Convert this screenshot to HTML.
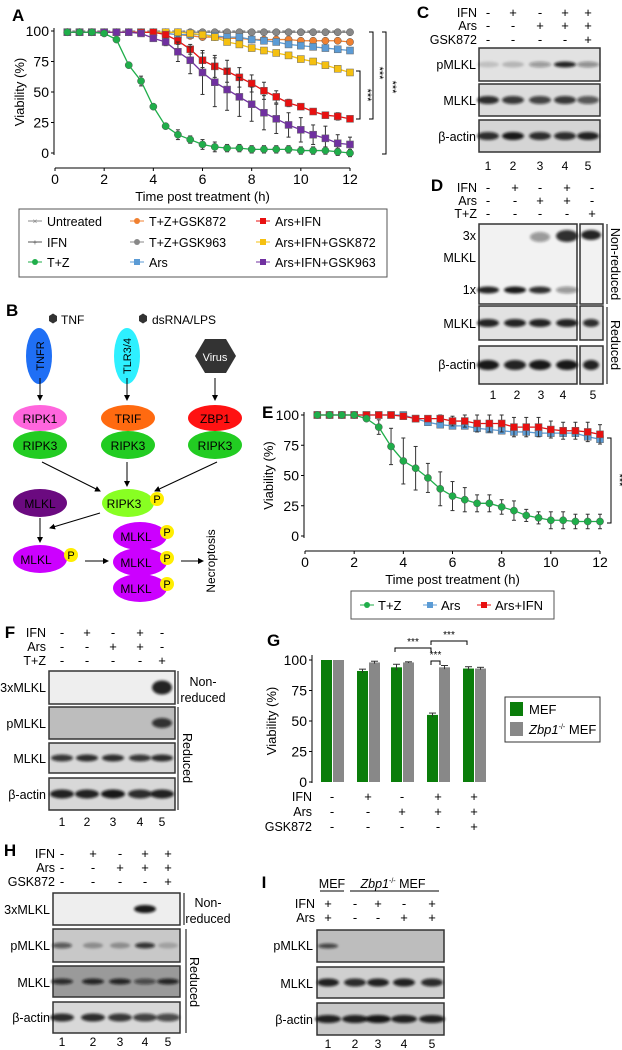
<!DOCTYPE html>
<html><head><meta charset="utf-8"><style>
html,body{margin:0;padding:0;background:#fff}
svg{display:block;font-family:"Liberation Sans",Arial,sans-serif}
</style></head><body>
<svg id="fig" width="622" height="1050" viewBox="0 0 622 1050" xmlns="http://www.w3.org/2000/svg">
<defs>
<filter id="bl" x="-20%" y="-50%" width="140%" height="200%"><feGaussianBlur stdDeviation="1.3"/></filter>
<marker id="ar" markerWidth="6" markerHeight="6" refX="5" refY="3" orient="auto"><path d="M0,0 L6,3 L0,6 z" fill="#000"/></marker>
</defs>
<g id="panelA"></g>
<g id="panelE"></g>
<g id="panelG"></g>
<g id="blots"></g>

<!-- Panel B diagram -->
<g font-size="12">
<text x="6" y="316" font-size="17" font-weight="bold">B</text>
<polygon points="49,316 53,313.5 57,316 57,321 53,323.5 49,321" fill="#333"/>
<text x="61" y="324">TNF</text>
<polygon points="139,316 143,313.5 147,316 147,321 143,323.5 139,321" fill="#333"/>
<text x="152" y="324">dsRNA/LPS</text>
<ellipse cx="39" cy="356" rx="13" ry="28" fill="#1f6ff5"/>
<text transform="translate(44,356) rotate(-90)" text-anchor="middle" font-size="11">TNFR</text>
<ellipse cx="127" cy="356" rx="13" ry="28" fill="#2ef0ff"/>
<text transform="translate(131,356) rotate(-90)" text-anchor="middle" font-size="11">TLR3/4</text>
<polygon points="205,339 226,339 236,356 226,373 205,373 195,356" fill="#333"/>
<text x="215" y="361" fill="#fff" text-anchor="middle" font-size="11">Virus</text>
<g stroke="#000" stroke-width="1" marker-end="url(#ar)">
<line x1="40" y1="378" x2="40" y2="400"/><line x1="127" y1="378" x2="127" y2="400"/><line x1="215" y1="378" x2="215" y2="400"/>
<line x1="42" y1="462" x2="100" y2="491"/><line x1="127" y1="462" x2="127" y2="486"/><line x1="217" y1="462" x2="155" y2="491"/>
<line x1="100" y1="513" x2="50" y2="528"/><line x1="40" y1="518" x2="40" y2="542"/>
<line x1="85" y1="561" x2="108" y2="561"/><line x1="181" y1="561" x2="203" y2="561"/>
</g>
<ellipse cx="40" cy="418" rx="27" ry="13" fill="#ff66dd"/><text x="40" y="423" text-anchor="middle">RIPK1</text>
<ellipse cx="128" cy="418" rx="27" ry="13" fill="#ff6a10"/><text x="128" y="423" text-anchor="middle">TRIF</text>
<ellipse cx="215" cy="418" rx="27" ry="13" fill="#ff1212"/><text x="215" y="423" text-anchor="middle">ZBP1</text>
<ellipse cx="40" cy="445" rx="27" ry="14" fill="#22cc22"/><text x="40" y="450" text-anchor="middle">RIPK3</text>
<ellipse cx="128" cy="445" rx="27" ry="14" fill="#22cc22"/><text x="128" y="450" text-anchor="middle">RIPK3</text>
<ellipse cx="215" cy="445" rx="27" ry="14" fill="#22cc22"/><text x="215" y="450" text-anchor="middle">RIPK3</text>
<ellipse cx="128" cy="503" rx="26" ry="14" fill="#88ff22"/><text x="124" y="508" text-anchor="middle">RIPK3</text>
<circle cx="157" cy="499" r="7" fill="#ffee00"/><text x="157" y="503" text-anchor="middle" font-size="11">P</text>
<ellipse cx="40" cy="503" rx="27" ry="14" fill="#6b0a80"/><text x="40" y="508" text-anchor="middle">MLKL</text>
<ellipse cx="40" cy="559" rx="27" ry="14" fill="#cc00ff"/><text x="36" y="564" text-anchor="middle">MLKL</text>
<circle cx="71" cy="555" r="7" fill="#ffee00"/><text x="71" y="559" text-anchor="middle" font-size="11">P</text>
<ellipse cx="140" cy="588" rx="27" ry="14" fill="#cc00ff"/><text x="136" y="593" text-anchor="middle">MLKL</text><circle cx="167" cy="584" r="7" fill="#ffee00"/><text x="167" y="588" text-anchor="middle" font-size="11">P</text>
<ellipse cx="140" cy="562" rx="27" ry="14" fill="#cc00ff"/><text x="136" y="567" text-anchor="middle">MLKL</text><circle cx="167" cy="558" r="7" fill="#ffee00"/><text x="167" y="562" text-anchor="middle" font-size="11">P</text>
<ellipse cx="140" cy="536" rx="27" ry="14" fill="#cc00ff"/><text x="136" y="541" text-anchor="middle">MLKL</text><circle cx="167" cy="532" r="7" fill="#ffee00"/><text x="167" y="536" text-anchor="middle" font-size="11">P</text>
<text transform="translate(215,561) rotate(-90)" text-anchor="middle" font-size="12">Necroptosis</text>
</g>
</svg>
<script>
// ---------- Panel A data ----------
const timesA = [0.5,1,1.5,2,2.5,3,3.5,4,4.5,5,5.5,6,6.5,7,7.5,8,8.5,9,9.5,10,10.5,11,11.5,12];
const xTicks = [0,2,4,6,8,10,12];
const yTicks = [0,25,50,75,100];
const untreatedA = [100,100,100,100,100,100,100,100,100,100,100,100,100,100,100,100,100,100,100,100,100,100,100,100];
const ifnA = [99,99,99,99,99,99,99,99,99,99,99,99,99,99,99,99,99,99,99,99,99,99,99,99];
const tzA = [99,99,99,98,93,72,59,38,22,15,11,7,5,4,4,3,3,3,3,2,2,2,1,0];
const tzErrA = [1,1,1,2,2,2,4,2,2,4,3,4,4,3,3,3,3,3,3,3,3,3,3,3];
const tz872A = [99,99,99,99,99,99,99,99,98,97,96,95,95,94,94,93,93,93,93,92,92,92,92,91];
const tz963A = [99,99,99,99,99,99,99,99,99,99,99,99,99,99,99,99,99,99,99,99,99,99,99,99];
const arsA = [99,99,99,99,99,99,99,99,98,97,97,97,96,95,95,93,92,91,89,88,87,86,85,84];
const arsIfnA = [99,99,99,99,99,99,99,99,97,92,85,76,71,67,62,57,51,46,41,38,34,31,30,28];
const arsIfnErrA = [1,1,1,1,1,1,1,1,2,3,4,6,9,9,8,7,7,5,3,2,2,2,3,2];
const arsIfn872A = [99,99,99,99,99,99,99,99,99,99,98,97,95,91,89,86,84,82,80,77,75,72,69,66];
const arsIfn963A = [99,99,99,99,99,99,98,94,91,83,76,66,58,52,46,40,33,28,23,19,15,12,8,7];
const arsIfn963ErrA = [1,1,1,1,1,1,2,2,3,8,11,18,20,17,16,14,14,12,10,10,8,10,7,6];
// ---------- Panel E data ----------
const timesE = [0.5,1,1.5,2,2.5,3,3.5,4,4.5,5,5.5,6,6.5,7,7.5,8,8.5,9,9.5,10,10.5,11,11.5,12];
const tzE = [100,100,100,100,97,90,74,62,56,48,39,33,30,27,27,24,21,17,15,13,13,12,12,12];
const tzErrE = [0,0,0,0,2,6,15,19,18,12,14,12,10,7,7,6,8,5,5,7,7,6,6,6];
const arsE = [100,100,100,100,100,100,100,100,97,94,92,91,91,89,88,87,86,86,85,85,85,85,82,80];
const arsIfnE = [100,100,100,100,100,100,100,99,97,97,97,95,95,93,93,93,90,90,90,88,87,87,86,84];
const arsIfnErrE = [0,0,0,0,0,0,0,1,1,2,3,4,5,7,7,7,8,8,8,7,7,7,8,8];
// ---------- Panel G data ----------
const groupsG = ["1","2","3","4","5"];
const mefG = [100,91,94,55,93];
const mefErrG = [0,1.5,2.5,1.5,1.5];
const zbpG = [100,98,98,94,93];
const zbpErrG = [0,1,0.5,1.5,1];

const NS="http://www.w3.org/2000/svg";
function mk(tag, attrs, parent, txt){const e=document.createElementNS(NS,tag);for(const k in attrs)e.setAttribute(k,attrs[k]);if(txt!==undefined)e.textContent=txt;parent.appendChild(e);return e;}

function lineChart(g, cfg){
  const sx=v=>cfg.x0+(cfg.x1-cfg.x0)*v/12, sy=v=>cfg.y0+(cfg.y100-cfg.y0)*v/100;
  mk('line',{x1:cfg.yAxisX,y1:sy(100)-3,x2:cfg.yAxisX,y2:sy(0)+2,stroke:'#000'},g);
  yTicks.forEach(t=>{mk('line',{x1:cfg.yAxisX-3,y1:sy(t),x2:cfg.yAxisX,y2:sy(t),stroke:'#000'},g);
    const l=mk('text',{x:cfg.yAxisX-5,y:sy(t)+5,'text-anchor':'end','font-size':14},g,String(t));
    
    });
  mk('line',{x1:sx(0),y1:cfg.xAxisY,x2:sx(12),y2:cfg.xAxisY,stroke:'#000'},g);
  xTicks.forEach(t=>{mk('line',{x1:sx(t),y1:cfg.xAxisY,x2:sx(t),y2:cfg.xAxisY+3,stroke:'#000'},g);
    const l=mk('text',{x:sx(t),y:cfg.xAxisY+16,'text-anchor':'middle','font-size':14},g,String(t));
    
    });
  const xt=mk('text',{x:(sx(0)+sx(12))/2,y:cfg.xAxisY+33,'text-anchor':'middle','font-size':13},g,'Time post treatment (h)');
  
  
  const yt=mk('text',{transform:`translate(${cfg.yTitleX},${(sy(0)+sy(100))/2}) rotate(-90)`,'text-anchor':'middle','font-size':13},g,'Viability (%)');
  
  
  cfg.series.forEach(s=>{
    const sg=mk('g',{},g);
    
    
    if(s.err) s.vals.forEach((v,i)=>{const e=s.err[i];if(!e)return;const x=sx(cfg.times[i]);
      mk('line',{x1:x,y1:sy(v-e),x2:x,y2:sy(v+e),stroke:'#333','stroke-width':1},sg);
      mk('line',{x1:x-2,y1:sy(v-e),x2:x+2,y2:sy(v-e),stroke:'#333'},sg);mk('line',{x1:x-2,y1:sy(v+e),x2:x+2,y2:sy(v+e),stroke:'#333'},sg);});
    mk('polyline',{points:s.vals.map((v,i)=>sx(cfg.times[i])+','+sy(v)).join(' '),fill:'none',stroke:s.c,'stroke-width':1.3,'stroke-dasharray':s.dash||''},sg);
    s.vals.forEach((v,i)=>{const x=sx(cfg.times[i]),y=sy(v);
      if(s.m==='c') mk('circle',{cx:x,cy:y,r:3.6,fill:s.c,stroke:'#555','stroke-width':0.5},sg);
      else if(s.m==='s') mk('rect',{x:x-3.5,y:y-3.5,width:7,height:7,fill:s.c,stroke:'#666','stroke-width':0.5},sg);
      else mk('text',{x:x,y:y+3,'text-anchor':'middle','font-size':8,fill:s.c},sg,s.m);});
  });
  return {sx,sy};
}

// Panel A
const gA=document.getElementById('panelA');
mk('text',{x:12,y:21,'font-size':17,'font-weight':'bold'},gA,'A');
const A=lineChart(gA,{x0:55,x1:350,y0:153,y100:31,yAxisX:54,xAxisY:168,yTitleX:24,times:timesA,series:[
 {name:'untreated',vals:untreatedA,c:'#888',m:'×',dash:'3,2'},
 {name:'ifn',vals:ifnA,c:'#555',m:'+',dash:'3,2'},
 {name:'tz-gsk963',vals:tz963A,c:'#888',m:'c'},
 {name:'tz-gsk872',vals:tz872A,c:'#f08030',m:'c'},
 {name:'ars',vals:arsA,c:'#5b9bd5',m:'s'},
 {name:'ars-ifn-gsk872',vals:arsIfn872A,c:'#f5c010',m:'s'},
 {name:'ars-ifn',vals:arsIfnA,c:'#e81010',m:'s',err:arsIfnErrA},
 {name:'ars-ifn-gsk963',vals:arsIfn963A,c:'#7030a0',m:'s',err:arsIfn963ErrA},
 {name:'tz',vals:tzA,c:'#1fae4a',m:'c',err:tzErrA}]});
function bracket(g,x,y1,y2,sx,sy){mk('path',{d:`M${x-4},${y1} H${x} V${y2} H${x-4}`,fill:'none',stroke:'#000'},g);
 mk('text',{transform:`translate(${sx},${sy}) rotate(90)`,'text-anchor':'middle','font-size':11},g,'***');}
bracket(gA,360,71,119,364,95);bracket(gA,373,32,119,376,73);bracket(gA,386,32,154,389,87);
const lgA=mk('g',{},gA);


mk('rect',{x:19,y:209,width:368,height:68,fill:'#fff',stroke:'#555'},lgA);
[["Untreated",'#888','×',35,221],["IFN",'#555','+',35,242],["T+Z",'#1fae4a','c',35,262],
 ["T+Z+GSK872",'#f08030','c',137,221],["T+Z+GSK963",'#888','c',137,242],["Ars",'#5b9bd5','s',137,262],
 ["Ars+IFN",'#e81010','s',263,221],["Ars+IFN+GSK872",'#f5c010','s',263,242],["Ars+IFN+GSK963",'#7030a0','s',263,262]].forEach(d=>{
 const e=mk('g',{},lgA);
 
 
 mk('line',{x1:d[3]-7,y1:d[4],x2:d[3]+7,y2:d[4],stroke:d[1]},e);
 if(d[2]==='c')mk('circle',{cx:d[3],cy:d[4],r:3,fill:d[1]},e);else if(d[2]==='s')mk('rect',{x:d[3]-3,y:d[4]-3,width:6,height:6,fill:d[1]},e);else mk('text',{x:d[3],y:d[4]+3,'text-anchor':'middle','font-size':8,fill:d[1]},e,d[2]);
 mk('text',{x:d[3]+12,y:d[4]+5,'font-size':12.5},e,d[0]);});

// Panel E
const gE=document.getElementById('panelE');
mk('text',{x:262,y:418,'font-size':17,'font-weight':'bold'},gE,'E');
lineChart(gE,{x0:305,x1:600,y0:536,y100:415,yAxisX:304,xAxisY:551,yTitleX:273,times:timesE,series:[
 {name:'ars',vals:arsE,c:'#5b9bd5',m:'s'},
 {name:'ars-ifn',vals:arsIfnE,c:'#e81010',m:'s',err:arsIfnErrE},
 {name:'tz',vals:tzE,c:'#1fae4a',m:'c',err:tzErrE}]});
bracket(gE,611,438,523,616,480);
const lgE=mk('g',{},gE);


mk('rect',{x:351,y:591,width:203,height:28,fill:'#fff',stroke:'#555'},lgE);
[["T+Z",'#1fae4a','c',367],["Ars",'#5b9bd5','s',430],["Ars+IFN",'#e81010','s',484]].forEach(d=>{
 const e=mk('g',{},lgE);
 
 
 mk('line',{x1:d[3]-7,y1:605,x2:d[3]+7,y2:605,stroke:d[1]},e);
 if(d[2]==='c')mk('circle',{cx:d[3],cy:605,r:3,fill:d[1]},e);else mk('rect',{x:d[3]-3,y:602,width:6,height:6,fill:d[1]},e);
 mk('text',{x:d[3]+11,y:610,'font-size':13},e,d[0]);});

// Panel G
const gG=document.getElementById('panelG');
mk('text',{x:267,y:646,'font-size':17,'font-weight':'bold'},gG,'G');
const gy=v=>782+(660-782)*v/100, gx0=[321,357,391,427,463], bw=11;
mk('line',{x1:312,y1:655,x2:312,y2:783,stroke:'#000'},gG);
yTicks.forEach(t=>{mk('line',{x1:309,y1:gy(t),x2:312,y2:gy(t),stroke:'#000'},gG);
 const l=mk('text',{x:307,y:gy(t)+5,'text-anchor':'end','font-size':14},gG,String(t));
 
 });
const ytG=mk('text',{transform:`translate(276,${gy(50)}) rotate(-90)`,'text-anchor':'middle','font-size':13},gG,'Viability (%)');


groupsG.forEach((gname,i)=>{
 [[mefG,mefErrG,'#0a7d0a',0],[zbpG,zbpErrG,'#888888',bw+1]].forEach(s=>{
  const x=gx0[i]+s[3], v=s[0][i], e=s[1][i];
  const b=mk('rect',{x:x,y:gy(v),width:bw,height:782-gy(v),fill:s[2]},gG);
  
  
  if(e){mk('line',{x1:x+bw/2,y1:gy(v+e),x2:x+bw/2,y2:gy(v-e),stroke:'#333'},gG);mk('line',{x1:x+2,y1:gy(v+e),x2:x+bw-2,y2:gy(v+e),stroke:'#333'},gG);}
 });});
function hb(x1,x2,y,sy){mk('path',{d:`M${x1},${y+4} V${y} H${x2} V${y+4}`,fill:'none',stroke:'#000'},gG);mk('text',{x:(x1+x2)/2,y:sy,'text-anchor':'middle','font-size':10},gG,'***');}
hb(395,431,648,645);hb(431,467,641,638);hb(431,440,661,658);
[["IFN",["-","+","-","+","+"],796],["Ars",["-","-","+","+","+"],811],["GSK872",["-","-","-","-","+"],826]].forEach(r=>{
 mk('text',{x:312,y:r[2]+5,'text-anchor':'end','font-size':12.5},gG,r[0]);
 r[1].forEach((s,i)=>mk('text',{x:gx0[i]+11,y:r[2]+5,'text-anchor':'middle','font-size':13},gG,s));});
const lgG=mk('g',{},gG);


mk('rect',{x:505,y:697,width:95,height:45,fill:'#fff',stroke:'#333'},lgG);
mk('rect',{x:510,y:702,width:13,height:14,fill:'#0a7d0a'},lgG);mk('text',{x:529,y:714,'font-size':13},lgG,'MEF');
mk('rect',{x:510,y:722,width:13,height:14,fill:'#888'},lgG);
const zt=mk('text',{x:529,y:734,'font-size':13},lgG);
mk('tspan',{'font-style':'italic'},zt,'Zbp1');mk('tspan',{'font-size':7,dy:-5},zt,'-/-');mk('tspan',{dy:5},zt,' MEF');

// ---------- Blots ----------
const gB=document.getElementById('blots');
function lbl(t,x,y,anchor,size,w){return mk('text',{x:x,y:y,'text-anchor':anchor||'end','font-size':size||12.5,'font-weight':w||'normal'},gB,t);}
function conds(rows,lanes,labelX){rows.forEach(r=>{lbl(r[0],labelX,r[2]+5);r[1].forEach((s,i)=>lbl(s,lanes[i],r[2]+5,'middle',13));});}
function blot(name,x,y,w,h,bg,lanes,ints,bh,bandW){
 const g=mk('g',{},gB);
 
 
 mk('rect',{x:x,y:y,width:w,height:h,fill:bg,stroke:'#333','stroke-width':1.5},g);
 lanes.forEach((lx,i)=>{if(ints[i]>0)mk('ellipse',{cx:lx,cy:y+h/2,rx:bandW||11,ry:bh||4,fill:'#111','fill-opacity':ints[i],filter:'url(#bl)'},g);});
 return g;}
function nums(lanes,y){lanes.forEach((lx,i)=>lbl(String(i+1),lx,y,'middle',12));}
// C
lbl('C',423,18,'middle',17,'bold');
const lC=[488,513,540,565,588];
conds([["IFN",["-","+","-","+","+"],12],["Ars",["-","-","+","+","+"],25],["GSK872",["-","-","-","-","+"],39]],lC,477);
blot('blot-c-pmlkl',479,48,121,33,'#e2e2e2',lC,[0.15,0.2,0.35,0.9,0.4],3);lbl('pMLKL',476,69);
blot('blot-c-mlkl',479,84,121,32,'#dcdcdc',lC,[0.85,0.8,0.75,0.8,0.65],4);lbl('MLKL',476,105);
blot('blot-c-actin',479,120,121,32,'#d5d5d5',lC,[0.85,0.95,0.85,0.85,0.9],4);lbl('β-actin',476,141);
nums(lC,170);
// D
lbl('D',437,191,'middle',17,'bold');
const lD=[488,515,540,567,592];
conds([["IFN",["-","+","-","+","-"],187],["Ars",["-","-","+","+","-"],200],["T+Z",["-","-","-","-","+"],213]],lD,477);
const d1=blot('blot-d-nonreduced',479,224,98,80,'#f2f2f2',[],[]);
[[488,0.9],[515,0.95],[540,0.85],[567,0.4]].forEach(b=>mk('ellipse',{cx:b[0],cy:290,rx:11,ry:3.5,fill:'#111','fill-opacity':b[1],filter:'url(#bl)'},d1));
mk('ellipse',{cx:540,cy:237,rx:10,ry:5,fill:'#111','fill-opacity':0.4,filter:'url(#bl)'},d1);
mk('ellipse',{cx:567,cy:236,rx:11,ry:6,fill:'#111','fill-opacity':0.85,filter:'url(#bl)'},d1);
const d2=blot('blot-d-nonreduced-tz',580,224,23,80,'#f2f2f2',[],[]);
mk('ellipse',{cx:591,cy:235,rx:10,ry:5,fill:'#111','fill-opacity':0.9,filter:'url(#bl)'},d2);
lbl('3x',476,240);lbl('MLKL',476,262);lbl('1x',476,294);
blot('blot-d-mlkl',479,306,98,34,'#e2e2e2',[488,515,540,567],[0.9,0.9,0.9,0.9],4);
blot('blot-d-mlkl-tz',580,306,23,34,'#e2e2e2',[591],[0.85],4,8);lbl('MLKL',476,328);
blot('blot-d-actin',479,346,98,38,'#e2e2e2',[488,515,540,567],[0.95,0.9,0.95,0.95],5);
blot('blot-d-actin-tz',580,346,23,38,'#e2e2e2',[591],[0.9],5,8);lbl('β-actin',476,369);
mk('line',{x1:607,y1:224,x2:607,y2:304,stroke:'#000'},gB);mk('line',{x1:607,y1:307,x2:607,y2:384,stroke:'#000'},gB);
mk('text',{transform:'translate(611,264) rotate(90)','text-anchor':'middle','font-size':12.5},gB,'Non-reduced');
mk('text',{transform:'translate(611,345) rotate(90)','text-anchor':'middle','font-size':12.5},gB,'Reduced');
nums([493,517,541,563,593],399);
// F
lbl('F',10,638,'middle',17,'bold');
const lF=[62,87,113,140,162];
conds([["IFN",["-","+","-","+","-"],632],["Ars",["-","-","+","+","-"],646],["T+Z",["-","-","-","-","+"],660]],lF,46);
blot('blot-f-3xmlkl',49,671,126,33,'#eeeeee',lF,[0,0,0,0,0.9],7,10);lbl('3xMLKL',46,692);
blot('blot-f-pmlkl',49,707,126,32,'#bdbdbd',lF,[0,0,0,0,0.8],5,10);lbl('pMLKL',46,728);
blot('blot-f-mlkl',49,743,126,30,'#d8d8d8',lF,[0.8,0.85,0.85,0.8,0.85],3.5,11);lbl('MLKL',46,763);
blot('blot-f-actin',49,778,126,32,'#d8d8d8',lF,[0.9,0.9,0.95,0.85,0.9],4.5,12);lbl('β-actin',46,799);
mk('line',{x1:178,y1:671,x2:178,y2:704,stroke:'#000'},gB);mk('line',{x1:178,y1:707,x2:178,y2:810,stroke:'#000'},gB);
lbl('Non-',203,686,'middle');lbl('reduced',203,702,'middle');
mk('text',{transform:'translate(183,758) rotate(90)','text-anchor':'middle','font-size':12.5},gB,'Reduced');
nums(lF,826);
// H
lbl('H',10,856,'middle',17,'bold');
const lH=[62,93,120,145,168];
conds([["IFN",["-","+","-","+","+"],853],["Ars",["-","-","+","+","+"],867],["GSK872",["-","-","-","-","+"],881]],lH,55);
blot('blot-h-3xmlkl',53,893,127,32,'#eeeeee',lH,[0,0,0,0.95,0],4,11);lbl('3xMLKL',50,914);
blot('blot-h-pmlkl',53,929,127,33,'#c8c8c8',lH,[0.6,0.3,0.3,0.8,0.2],3,10);lbl('pMLKL',50,950);
blot('blot-h-mlkl',53,966,127,31,'#9a9a9a',lH,[0.8,0.85,0.85,0.6,0.85],3,11);lbl('MLKL',50,987);
blot('blot-h-actin',53,1002,127,31,'#d8d8d8',lH,[0.85,0.85,0.8,0.75,0.7],4,12);lbl('β-actin',50,1022);
mk('line',{x1:184,y1:893,x2:184,y2:925,stroke:'#000'},gB);mk('line',{x1:186,y1:929,x2:186,y2:1033,stroke:'#000'},gB);
lbl('Non-',208,907,'middle');lbl('reduced',208,923,'middle');
mk('text',{transform:'translate(190,982) rotate(90)','text-anchor':'middle','font-size':12.5},gB,'Reduced');
nums(lH,1046);
// I
lbl('I',264,888,'middle',17,'bold');
const lI=[328,355,378,404,432];
lbl('MEF',332,888,'middle',12.5);mk('line',{x1:320,y1:891,x2:344,y2:891,stroke:'#000'},gB);
const zi=mk('text',{x:393,y:888,'text-anchor':'middle','font-size':12.5},gB);
mk('tspan',{'font-style':'italic'},zi,'Zbp1');mk('tspan',{'font-size':7,dy:-5},zi,'-/-');mk('tspan',{dy:5},zi,' MEF');
mk('line',{x1:350,y1:891,x2:439,y2:891,stroke:'#000'},gB);
conds([["IFN",["+","-","+","-","+"],903],["Ars",["+","-","-","+","+"],917]],lI,315);
blot('blot-i-pmlkl',317,930,127,32,'#bdbdbd',lI,[0.7,0,0,0,0],2.5,10);lbl('pMLKL',313,950);
blot('blot-i-mlkl',317,967,127,31,'#d0d0d0',lI,[0.9,0.85,0.9,0.9,0.85],4,11);lbl('MLKL',313,988);
blot('blot-i-actin',317,1003,127,32,'#c8c8c8',lI,[0.9,0.9,0.95,0.9,0.9],4,13);lbl('β-actin',313,1024);
nums(lI,1048);
</script>
</body></html>
